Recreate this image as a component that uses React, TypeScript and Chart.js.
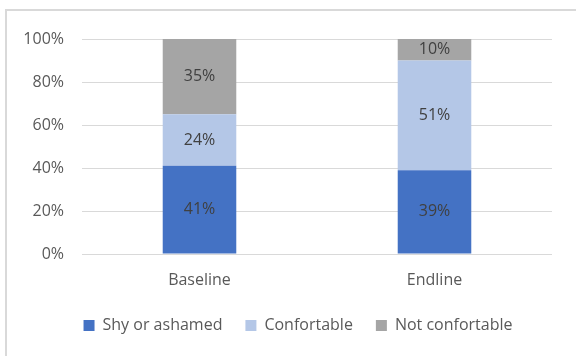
import React, { useEffect, useRef } from "react";
import { Chart, registerables } from "chart.js";

Chart.register(...registerables);

const categories = ["Baseline", "Endline"];
const shyOrAshamed = [41, 39];
const confortable = [24, 51];
const notConfortable = [35, 10];
const yTicks = [0, 20, 40, 60, 80, 100];

const FONT = "'Open Sans', sans-serif";

const dataLabels = {
  id: "dataLabels",
  afterDatasetsDraw(chart: any) {
    const ctx = chart.ctx;
    ctx.save();
    ctx.font = `16px ${FONT}`;
    ctx.fillStyle = "#404040";
    ctx.textAlign = "center";
    ctx.textBaseline = "middle";
    chart.data.datasets.forEach((ds: any, i: number) => {
      const meta = chart.getDatasetMeta(i);
      meta.data.forEach((bar: any, j: number) => {
        const v = ds.data[j];
        const y = (bar.y + bar.base) / 2;
        ctx.fillText(`${v}%`, bar.x, y);
      });
    });
    ctx.restore();
  },
};

const legendShift = {
  id: "legendShift",
  afterLayout(chart: any) {
    const l = chart.legend;
    if (l) {
      l.left += 12;
      l.right += 12;
    }
  },
};

export default function App() {
  const ref = useRef<HTMLCanvasElement>(null);
  useEffect(() => {
    if (!ref.current) return;
    const chart = new Chart(ref.current, {
      type: "bar",
      data: {
        labels: categories,
        datasets: [
          { label: "Shy or ashamed", data: shyOrAshamed, backgroundColor: "#4472C4" },
          { label: "Confortable", data: confortable, backgroundColor: "#B4C7E7" },
          { label: "Not confortable", data: notConfortable, backgroundColor: "#A5A5A5" },
        ],
      },
      options: {
        responsive: false,
        animation: false,
        devicePixelRatio: 1,
        layout: { padding: { left: 20, right: 24, top: 39, bottom: 12.5 } },
        datasets: { bar: { barPercentage: 0.313, categoryPercentage: 1 } },
        scales: {
          x: {
            stacked: true,
            grid: { display: false, drawTicks: false },
            border: { display: false },
            ticks: { color: "#595959", font: { family: FONT, size: 16 }, padding: 16.4 },
            afterFit: (axis: any) => { axis.height = 40.5; },
          },
          y: {
            stacked: true,
            min: 0,
            max: 100,
            afterBuildTicks: (axis: any) => { axis.ticks = yTicks.map((v) => ({ value: v })); },
            grid: { color: "#D9D9D9", lineWidth: 1, drawTicks: false },
            border: { display: false },
            ticks: {
              color: "#595959",
              font: { family: FONT, size: 16 },
              padding: 18,
              callback: (v: any) => `${v}%`,
            },
            afterFit: (axis: any) => { axis.width = 62; },
          },
        },
        plugins: {
          legend: {
            position: "bottom",
            labels: {
              boxWidth: 11,
              boxHeight: 11,
              padding: 23,
              color: "#595959",
              font: { family: FONT, size: 16 },
            },
          },
          tooltip: { enabled: false },
        },
      },
      plugins: [dataLabels, legendShift],
    });
    return () => chart.destroy();
  }, []);
  return (
    <div style={{ position: "fixed", left: 0, top: 0, width: 576, height: 356, overflow: "hidden", background: "#fff" }}>
      <div style={{ position: "absolute", left: 5, top: 9, width: 800, height: 600, border: "2px solid #D9D9D9", boxSizing: "border-box" }} />
      <canvas ref={ref} width={576} height={356} style={{ position: "absolute", left: 0, top: 0 }} />
    </div>
  );
}
